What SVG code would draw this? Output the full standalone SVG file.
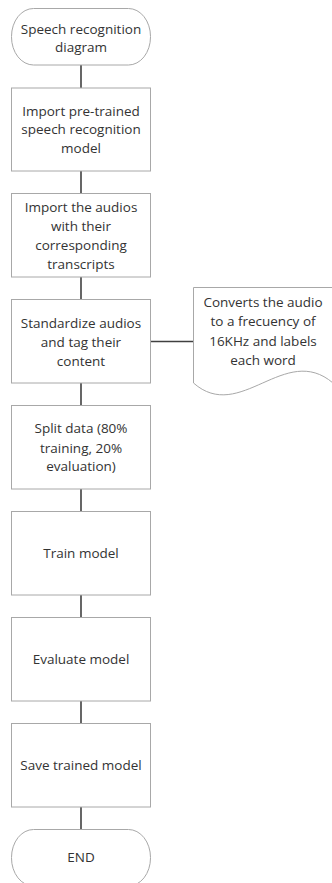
<svg xmlns="http://www.w3.org/2000/svg" width="332" height="883" viewBox="0 0 332 883">
  <style>
    .shape { fill: #ffffff; stroke: #a8a8a8; stroke-width: 1; }
    .conn { stroke: #404040; stroke-width: 1.6; fill: none; }
    text { font-family: "Open Sans", "Liberation Sans", sans-serif; font-size: 13.5px; fill: #333333; text-anchor: middle; }
  </style>
  <rect width="332" height="883" fill="#ffffff"/>

  <!-- connectors -->
  <g id="connectors">
    <line class="conn" x1="81" y1="65" x2="81" y2="88"/>
    <line class="conn" x1="81" y1="171" x2="81" y2="193"/>
    <line class="conn" x1="81" y1="277" x2="81" y2="299"/>
    <line class="conn" x1="81" y1="383" x2="81" y2="405"/>
    <line class="conn" x1="81" y1="489" x2="81" y2="511"/>
    <line class="conn" x1="81" y1="595" x2="81" y2="617"/>
    <line class="conn" x1="81" y1="701" x2="81" y2="723"/>
    <line class="conn" x1="81" y1="807" x2="81" y2="829"/>
    <line class="conn" x1="151" y1="341.5" x2="193.5" y2="341.5"/>
  </g>

  <g id="start">
    <rect class="shape" x="11.5" y="8.5" width="139" height="56.5" rx="22" ry="28"/>
    <text x="81" y="33.5">Speech recognition</text>
    <text x="81" y="52.2">diagram</text>
  </g>

  <g id="import-model">
    <rect class="shape" x="11.5" y="88" width="139" height="83"/>
    <text x="81" y="115.5">Import pre-trained</text>
    <text x="81" y="134">speech recognition</text>
    <text x="81" y="152.5">model</text>
  </g>

  <g id="import-audios">
    <rect class="shape" x="11.5" y="193.5" width="139" height="83.5"/>
    <text x="81" y="211.7">Import the audios</text>
    <text x="81" y="231">with their</text>
    <text x="81" y="250">corresponding</text>
    <text x="81" y="269">transcripts</text>
  </g>

  <g id="standardize">
    <rect class="shape" x="11.5" y="299.5" width="139" height="83.5"/>
    <text x="81" y="327.7">Standardize audios</text>
    <text x="81" y="347">and tag their</text>
    <text x="81" y="365.7">content</text>
  </g>

  <g id="note">
    <path class="shape" d="M193.5,287.5 H333 V383 C285,342 240,424 193.5,383 Z"/>
    <text x="263" y="306.5">Converts the audio</text>
    <text x="263" y="326">to a frecuency of</text>
    <text x="263" y="345.5">16KHz and labels</text>
    <text x="263" y="364.5">each word</text>
  </g>

  <g id="split">
    <rect class="shape" x="11.5" y="405.5" width="139" height="83.5"/>
    <text x="81" y="433.3">Split data (80%</text>
    <text x="81" y="452.7">training, 20%</text>
    <text x="81" y="471">evaluation)</text>
  </g>

  <g id="train">
    <rect class="shape" x="11.5" y="511.5" width="139" height="83.5"/>
    <text x="81" y="558.3">Train model</text>
  </g>

  <g id="evaluate">
    <rect class="shape" x="11.5" y="617.5" width="139" height="83.5"/>
    <text x="81" y="664">Evaluate model</text>
  </g>

  <g id="save">
    <rect class="shape" x="11.5" y="723.5" width="139" height="83.5"/>
    <text x="81" y="770">Save trained model</text>
  </g>

  <g id="end">
    <rect class="shape" x="11.5" y="829.5" width="139" height="56.5" rx="22" ry="28"/>
    <text x="81" y="861.7">END</text>
  </g>
</svg>
